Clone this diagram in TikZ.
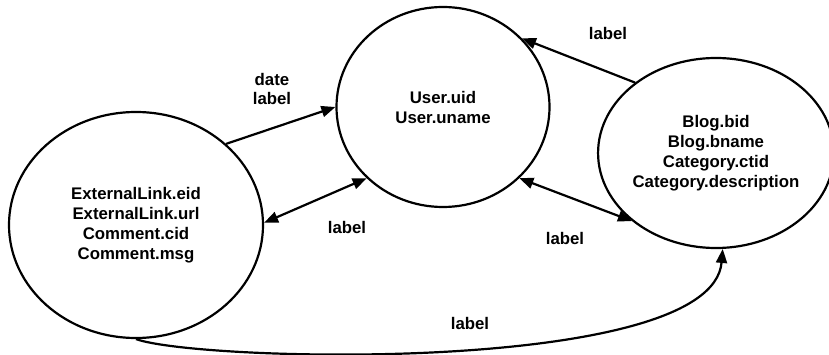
\documentclass[tikz,border=0pt]{standalone}
\usepackage{fontspec}
\setmainfont{Liberation Sans}
\usetikzlibrary{shapes.geometric,arrows.meta}
\begin{document}
\begin{tikzpicture}[x=1pt,y=-1pt,
  ent/.style={ellipse,draw,line width=2.2pt,inner sep=0pt,align=center,
    font=\fontsize{16.8}{20}\selectfont\bfseries},
  lbl/.style={align=center,inner sep=0pt,font=\fontsize{16.8}{19}\selectfont\bfseries},
  conn/.style={line width=2.2pt,-{Triangle[length=14pt,width=11pt]}},
  bconn/.style={line width=2.2pt,{Triangle[length=14pt,width=11pt]}-{Triangle[length=14pt,width=11pt]}}]
\useasboundingbox (0,0) rectangle (829,355);
\node[ent,minimum width=254pt,minimum height=226pt] (ext) at (136,225)
  {ExternalLink.eid\\ExternalLink.url\\Comment.cid\\Comment.msg};
\node[ent,minimum width=213pt,minimum height=200pt] (user) at (443,107)
  {User.uid\\User.uname};
\node[ent,minimum width=223pt,minimum height=190pt] (blog) at (716,153)
  {Blog.bid\\Blog.bname\\Category.ctid\\Category.description};
\draw[conn] (ext.42) -- (user.180);
\draw[bconn] (ext.1) -- (user.223);
\draw[bconn] (user.317) -- (blog.219.5);
\draw[conn] (blog.139) -- (user.41);
\draw[conn] (ext.270) .. controls (200,362) and (712,375) .. (blog.274);
\node[lbl] (l1) at (272,89) {date\\label};
\node[lbl] (l2) at (347,227) {label};
\node[lbl] (l3) at (565,238) {label};
\node[lbl] (l4) at (608,33) {label};
\node[lbl] (l5) at (470,323) {label};
\end{tikzpicture}
\end{document}
